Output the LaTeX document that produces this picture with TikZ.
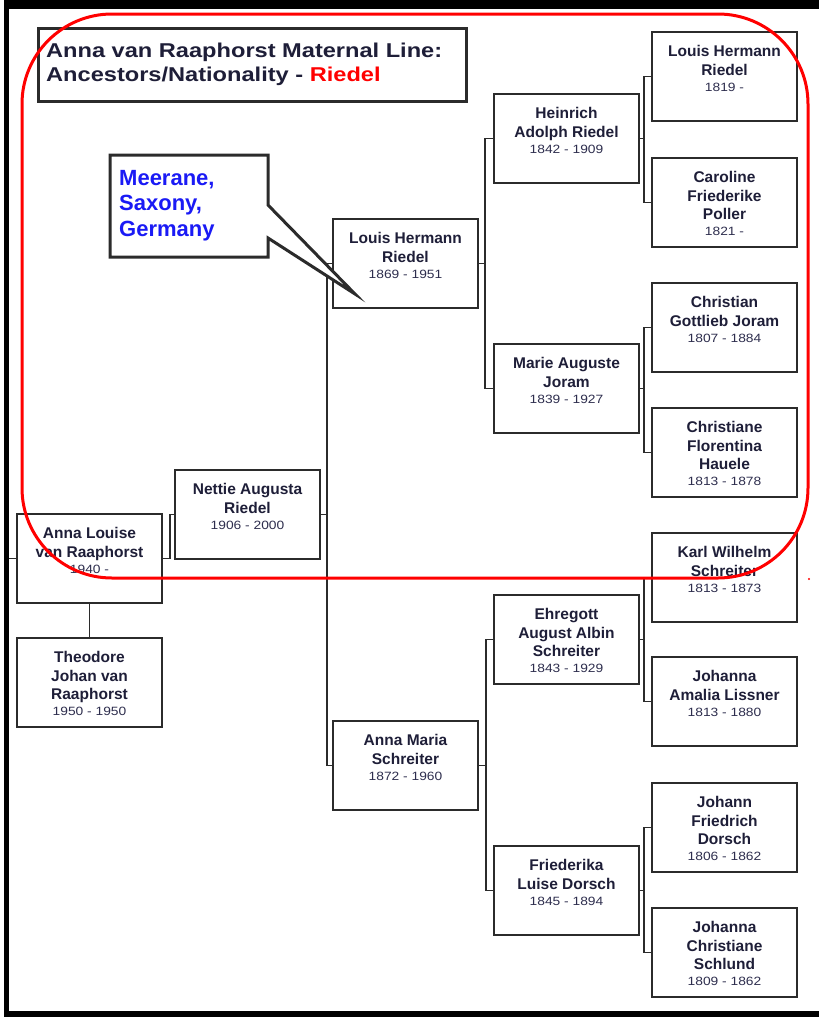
\documentclass[tikz,border=0pt]{standalone}
\usepackage{fontspec}
\setmainfont{Liberation Sans}
\newfontfamily\titlefam[FakeStretch=1.18]{Liberation Sans}
\newfontfamily\datefam[FakeStretch=1.15]{Liberation Sans}
\definecolor{ink}{HTML}{1E1E38}
\definecolor{dateink}{HTML}{2E2E4E}
\definecolor{boxline}{HTML}{2B2B2B}
\definecolor{callblue}{HTML}{1A1AF5}
\newcommand\pdate[1]{{\datefam\mdseries\color{dateink}\fontsize{12}{16}\selectfont #1}}
\newcommand\addperson[5]{%
  \node[pbox] (#1) at (#2+72.5,#3+44.5) {};
  \node[ptext] (#1-t) at (#2+72.5,#3+11.55) {\strut#4\\[-2.5pt]\pdate{#5}};
}
\begin{document}
\begin{tikzpicture}[x=1pt,y=-1pt,
  pbox/.style={draw=boxline,line width=1.6pt,fill=white,minimum width=145pt,minimum height=89pt,inner sep=0pt,outer sep=0pt},
  ptext/.style={align=center,anchor=north,inner sep=0pt,text=ink,font=\bfseries\fontsize{15.5}{18.5}\selectfont},
  link/.style={draw=boxline,line width=1.3pt},
  frame/.style={fill=black},
  ring/.style={draw=red,line width=3pt,rounded corners=90pt}]
\useasboundingbox (0,0) rectangle (819,1017);
\fill[white] (0,0) rectangle (819,1017);
% outer frame
\fill[frame] (4,0) rectangle (819,9);
\fill[frame] (4,0) rectangle (9,1017);
\fill[frame] (4,1011) rectangle (819,1017);
% persons
\addperson{anna}{17}{514}{Anna Louise\\van Raaphorst}{1940 -}
\addperson{theo}{17}{638}{Theodore\\Johan van\\Raaphorst}{1950 - 1950}
\addperson{nettie}{175}{470}{Nettie Augusta\\Riedel}{1906 - 2000}
\addperson{louis}{333}{219}{Louis Hermann\\Riedel}{1869 - 1951}
\addperson{annam}{333}{721}{Anna Maria\\Schreiter}{1872 - 1960}
\addperson{heinrich}{494}{94}{Heinrich\\Adolph Riedel}{1842 - 1909}
\addperson{marie}{494}{344}{Marie Auguste\\Joram}{1839 - 1927}
\addperson{ehregott}{494}{595}{Ehregott\\August Albin\\Schreiter}{1843 - 1929}
\addperson{friederika}{494}{846}{Friederika\\Luise Dorsch}{1845 - 1894}
\addperson{lh}{652}{32}{Louis Hermann\\Riedel}{1819 -}
\addperson{caroline}{652}{158}{Caroline\\Friederike\\Poller}{1821 -}
\addperson{christian}{652}{283}{Christian\\Gottlieb Joram}{1807 - 1884}
\addperson{christiane}{652}{408}{Christiane\\Florentina\\Hauele}{1813 - 1878}
\addperson{karl}{652}{533}{Karl Wilhelm\\Schreiter}{1813 - 1873}
\addperson{johanna}{652}{657}{Johanna\\Amalia Lissner}{1813 - 1880}
\addperson{johann}{652}{783}{Johann\\Friedrich\\Dorsch}{1806 - 1862}
\addperson{schlund}{652}{908}{Johanna\\Christiane\\Schlund}{1809 - 1862}
% connectors
\draw[link] (anna.west) -- ++(-8,0) coordinate (anna-in);
\draw[link] (anna.south) -- (theo.north);
\draw[link] (anna.east) -- ++(8,0) |- (nettie.west);
\draw[link] (nettie.east) -- ++(7,0) |- (louis.west);
\draw[link] (nettie.east) -- ++(7,0) |- (annam.west);
\draw[link] (louis.east) -- ++(7,0) |- (heinrich.west);
\draw[link] (louis.east) -- ++(7,0) |- (marie.west);
\draw[link] (annam.east) -- ++(8,0) |- (ehregott.west);
\draw[link] (annam.east) -- ++(8,0) |- (friederika.west);
\draw[link] (heinrich.east) -- ++(5,0) |- (lh.west);
\draw[link] (heinrich.east) -- ++(5,0) |- (caroline.west);
\draw[link] (marie.east) -- ++(5,0) |- (christian.west);
\draw[link] (marie.east) -- ++(5,0) |- (christiane.west);
\draw[link] (ehregott.east) -- ++(5,0) |- (karl.west);
\draw[link] (ehregott.east) -- ++(5,0) |- (johanna.west);
\draw[link] (friederika.east) -- ++(5,0) |- (johann.west);
\draw[link] (friederika.east) -- ++(5,0) |- (schlund.west);
% title
\node[draw=boxline,line width=3pt,fill=white,minimum width=428pt,minimum height=73pt,inner sep=0pt] (titlebox) at (252,64.5) {};
\node[anchor=base west,align=left,inner sep=0pt,text=ink,font=\titlefam\bfseries\fontsize{20}{24}\selectfont] (title) at (46,81)
  {Anna van Raaphorst Maternal Line:\\Ancestors/Nationality - \textcolor{red}{Riedel}};
% callout
\draw[draw=boxline,line width=3pt,fill=white,line join=miter]
  (110,155) -- (268,155) -- (268,205) -- (355,294) -- (268,238) -- (268,257) -- (110,257) -- cycle;
\node[anchor=base west,align=left,inner sep=0pt,text=callblue,font=\bfseries\fontsize{22}{25.5}\selectfont] (place) at (119,236)
  {Meerane,\\Saxony,\\Germany};
% red ring
\draw[ring] (22,14) rectangle (808,578);
\fill[red] (809,579) circle (1.2);
\end{tikzpicture}
\end{document}
